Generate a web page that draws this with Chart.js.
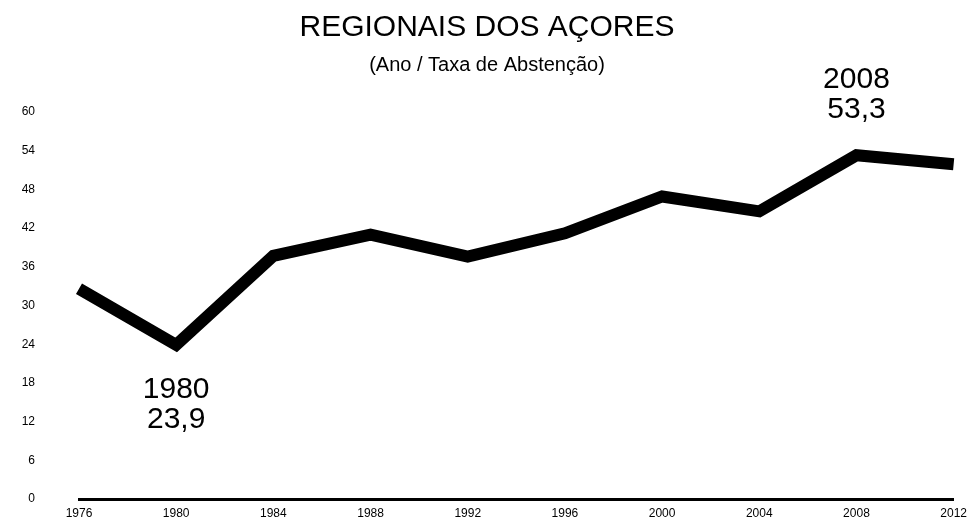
<!DOCTYPE html>
<html lang="pt">
<head>
<meta charset="utf-8">
<title>Regionais dos Açores</title>
<script src="https://cdn.jsdelivr.net/npm/chart.js@4/dist/chart.umd.min.js"></script>
<style>
  html, body { margin: 0; padding: 0; background: #fff; overflow: hidden; }
  canvas { display: block; }
</style>
</head>
<body>
<canvas id="graficoAbstencao" width="974" height="519"></canvas>
<script>
// dados: eleições regionais dos Açores, taxa de abstenção (%)
const anos = ["1976", "1980", "1984", "1988", "1992", "1996", "2000", "2004", "2008", "2012"];
const abstencao = [32.6, 23.9, 37.7, 41.0, 37.6, 41.2, 46.9, 44.6, 53.3, 51.9];
const yTicks = [0, 6, 12, 18, 24, 30, 36, 42, 48, 54, 60];
const destaques = [1, 8]; // 1980 e 2008

const FONTE = "'Liberation Sans', Arial, sans-serif";

// rótulos grandes junto ao mínimo e ao máximo
const etiquetas = {
    id: "etiquetas",
    afterDatasetsDraw(chart) {
        const ctx = chart.ctx;
        const meta = chart.getDatasetMeta(0);
        ctx.save();
        ctx.fillStyle = "#000";
        ctx.font = "30px " + FONTE;
        ctx.textAlign = "center";
        ctx.textBaseline = "middle";
        destaques.forEach(i => {
            const p = meta.data[i];
            const valor = abstencao[i].toFixed(1).replace(".", ",");
            const acima = abstencao[i] > abstencao[i - 1];
            const y1 = acima ? p.y - 75 : p.y + 45;
            ctx.fillText(anos[i], p.x, y1);
            ctx.fillText(valor, p.x, y1 + 30);
        });
        ctx.restore();
    }
};

const ctx = document.getElementById("graficoAbstencao").getContext("2d");
new Chart(ctx, {
    type: "line",
    data: {
        labels: anos,
        datasets: [{
            label: "Taxa de abstenção",
            data: abstencao,
            borderColor: "#000",
            borderWidth: 12,
            borderJoinStyle: "miter",
            pointRadius: 0,
            tension: 0,
            fill: false
        }]
    },
    options: {
        responsive: false,
        animation: false,
        devicePixelRatio: 1,
        layout: { padding: 0 },
        plugins: {
            legend: { display: false },
            tooltip: { enabled: false },
            title: {
                display: true,
                text: "REGIONAIS DOS AÇORES",
                color: "#000",
                font: { family: FONTE, size: 30, weight: "normal" },
                padding: { top: 10, bottom: 6 }
            },
            subtitle: {
                display: true,
                text: "(Ano / Taxa de Abstenção)",
                color: "#000",
                font: { family: FONTE, size: 20, weight: "normal" },
                padding: { top: 1, bottom: 35 }
            }
        },
        scales: {
            x: {
                offset: false,
                grid: { display: false, drawTicks: false },
                border: { display: true, color: "#000", width: 3 },
                ticks: {
                    color: "#000",
                    font: { family: FONTE, size: 12 },
                    padding: 7,
                    maxRotation: 0,
                    autoSkip: false
                },
                afterFit: axis => { axis.height = 20; }
            },
            y: {
                min: 0,
                max: 60,
                afterBuildTicks: axis => { axis.ticks = yTicks.map(v => ({ value: v })); },
                grid: { display: false, drawTicks: false },
                border: { display: false },
                ticks: {
                    color: "#000",
                    font: { family: FONTE, size: 12 },
                    padding: 44
                },
                afterFit: axis => {
                    axis.width = 79;
                    axis.paddingTop = 8;
                    axis.paddingBottom = 8;
                }
            }
        }
    },
    plugins: [etiquetas]
});
</script>
</body>
</html>
